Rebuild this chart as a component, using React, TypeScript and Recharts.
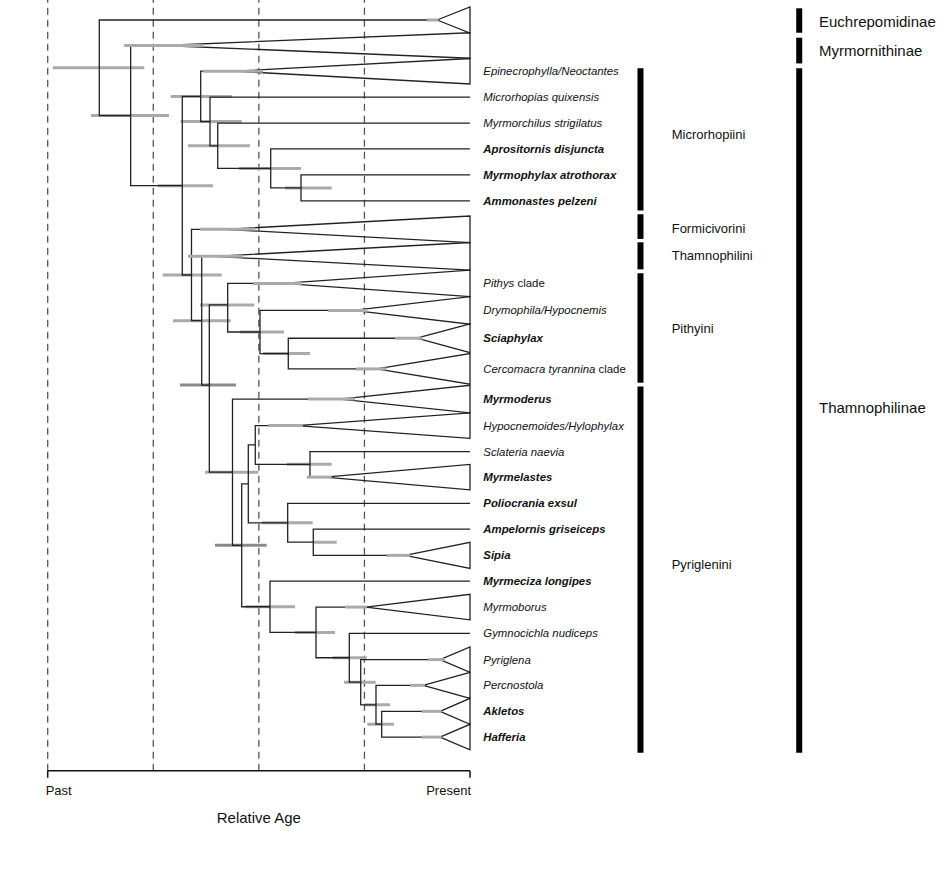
import React from 'react';
import { ComposedChart, XAxis, YAxis, Line, ReferenceLine, ReferenceDot } from 'recharts';

const FONT = "'Liberation Sans', Arial, Helvetica, sans-serif";

// ---------- Tips (terminal lineages, top to bottom) ----------
const tipIds = [
  'Euchrepomidinae', 'Myrmornithinae', 'Epinecrophylla', 'Microrhopias', 'Myrmorchilus',
  'Aprositornis', 'Myrmophylax', 'Ammonastes', 'Formicivorini', 'Thamnophilini',
  'Pithys', 'Drymophila', 'Sciaphylax', 'Cercomacra', 'Myrmoderus',
  'Hypocnemoides', 'Sclateria', 'Myrmelastes', 'Poliocrania', 'Ampelornis',
  'Sipia', 'Myrmeciza', 'Myrmoborus', 'Gymnocichla', 'Pyriglena',
  'Percnostola', 'Akletos', 'Hafferia',
];
// vertical slot of each tip (row units)
const tipRows = [
  0, 0.98, 1.97, 2.97, 3.97,
  4.96, 5.96, 6.96, 8.05, 9.09,
  10.13, 11.17, 12.24, 13.42, 14.58,
  15.6, 16.6, 17.58, 18.59, 19.58,
  20.59, 21.58, 22.58, 23.59, 24.6,
  25.59, 26.59, 27.58,
];
// half height of collapsed clade triangles (0 = single lineage)
const tipHalfHeights = [
  0.5, 0.49, 0.49, 0, 0,
  0, 0, 0, 0.51, 0.53,
  0.51, 0.53, 0.55, 0.59, 0.53,
  0.49, 0, 0.49, 0, 0,
  0.5, 0, 0.49, 0, 0.49,
  0.5, 0.5, 0.49,
];
// crown age of collapsed clades (relative age, 0 = past, 1 = present)
const tipCrownAges: (number | null)[] = [
  0.922, 0.273, 0.4435, null, null,
  null, null, null, 0.42, 0.396,
  0.557, 0.7237, 0.8738, 0.779, 0.6922,
  0.5896, null, 0.6566, null, null,
  0.8461, null, 0.7537, null, 0.929,
  0.8894, 0.929, 0.929,
];
const tipCrownCI: ([number, number] | null)[] = [
  [0.898, 0.925], [0.181, 0.368], [0.368, 0.51], null, null,
  null, null, null, [0.3607, 0.4909], [0.3322, 0.4624],
  [0.4861, 0.6015], [0.6637, 0.7554], [0.8224, 0.8887], [0.73, 0.8028], [0.6164, 0.7277],
  [0.5219, 0.6045], null, [0.6133, 0.6725], null, null,
  [0.8028, 0.8579], null, [0.704, 0.7554], null, [0.9005, 0.9408],
  [0.8579, 0.8934], [0.8856, 0.933], [0.8856, 0.933],
];
// label segments: i = italic, b = bold italic, n = normal
const tipLabels: [string, string][][] = [
  [], [], [['Epinecrophylla/Neoctantes', 'i']], [['Microrhopias quixensis', 'i']], [['Myrmorchilus strigilatus', 'i']],
  [['Aprositornis disjuncta', 'b']], [['Myrmophylax atrothorax', 'b']], [['Ammonastes pelzeni', 'b']], [], [],
  [['Pithys', 'i'], [' clade', 'n']], [['Drymophila/Hypocnemis', 'i']], [['Sciaphylax', 'b']],
  [['Cercomacra tyrannina', 'i'], [' clade', 'n']], [['Myrmoderus', 'b']],
  [['Hypocnemoides/Hylophylax', 'i']], [['Sclateria naevia', 'i']], [['Myrmelastes', 'b']],
  [['Poliocrania exsul', 'b']], [['Ampelornis griseiceps', 'b']],
  [['Sipia', 'b']], [['Myrmeciza longipes', 'b']], [['Myrmoborus', 'i']], [['Gymnocichla nudiceps', 'i']], [['Pyriglena', 'i']],
  [['Percnostola', 'i']], [['Akletos', 'b']], [['Hafferia', 'b']],
];

// ---------- Internal nodes ----------
const nodeIds = [
  'R', 'B', 'T', 'M', 'M2', 'M3', 'M4', 'M5', 'F', 'Th', 'PP', 'P', 'P2', 'P3',
  'Q', 'Q2', 'Q3', 'Q4', 'Q5', 'Q6', 'Q7', 'Q8', 'Q9', 'Q10', 'Q11', 'Q12', 'Q13',
];
const nodeChildren: [string, string][] = [
  ['Euchrepomidinae', 'B'], ['Myrmornithinae', 'T'], ['M', 'F'], ['Epinecrophylla', 'M2'],
  ['Microrhopias', 'M3'], ['Myrmorchilus', 'M4'], ['Aprositornis', 'M5'], ['Myrmophylax', 'Ammonastes'],
  ['Formicivorini', 'Th'], ['Thamnophilini', 'PP'], ['P', 'Q'], ['Pithys', 'P2'], ['Drymophila', 'P3'],
  ['Sciaphylax', 'Cercomacra'], ['Myrmoderus', 'Q2'], ['Q3', 'Q8'], ['Q4', 'Q6'], ['Hypocnemoides', 'Q5'],
  ['Sclateria', 'Myrmelastes'], ['Poliocrania', 'Q7'], ['Ampelornis', 'Sipia'], ['Myrmeciza', 'Q9'],
  ['Myrmoborus', 'Q10'], ['Gymnocichla', 'Q11'], ['Pyriglena', 'Q12'], ['Percnostola', 'Q13'], ['Akletos', 'Hafferia'],
];
const nodeAges = [
  0.1222, 0.1965, 0.3187, 0.3623, 0.3843, 0.4026, 0.5281, 0.5998, 0.3405, 0.3647, 0.3827, 0.4262, 0.5027, 0.5697,
  0.4376, 0.4594, 0.475, 0.4915, 0.6211, 0.5683, 0.6289, 0.5264, 0.6353, 0.7142, 0.7412, 0.7774, 0.7909,
];
// vertical slot of a node where it is not centred between its children (null = centred)
const nodeRowOverrides: (number | null)[] = [
  null, null, null, null, null, null, null, null, null, null, 14.04, 10.96, null, null,
  null, null, null, null, null, null, null, null, null, null, null, null, null,
];
const nodeCI: ([number, number] | null)[] = [
  [0.0118, 0.2287], [0.1025, 0.2872], [0.2612, 0.3915], [0.2913, 0.4357], [0.3149, 0.4594], [0.3322, 0.479],
  [0.453, 0.5998], [0.5619, 0.6725], [0.2723, 0.412], [0.2967, 0.4333], [0.3133, 0.4459], [0.3606, 0.4892],
  [0.4556, 0.5596], [0.5099, 0.6211], [0.3725, 0.4987], [0.3961, 0.5186], null, null, [0.5659, 0.6725],
  [0.5067, 0.6275], [0.6282, 0.6843], [0.4686, 0.5856], [0.5856, 0.6803], [0.6749, 0.7554], [0.7016, 0.7767],
  [0.7514, 0.8106], [0.7568, 0.82],
];

// ---------- Axis & clade annotations ----------
const timeTicks = [0, 1];
const timeTickLabels = ['Past', 'Present'];
const guideAges = [0, 0.25, 0.5, 0.75];

const tribeNames = ['Microrhopiini', 'Formicivorini', 'Thamnophilini', 'Pithyini', 'Pyriglenini'];
const tribeSpans: [number, number][] = [[1.86, 7.33], [7.47, 8.42], [8.55, 9.59], [9.74, 13.95], [14.1, 28.18]];
const tribeLabelRows = [4.41, 8.0, 9.05, 11.87, 20.95];
const subfamilyNames = ['Euchrepomidinae', 'Myrmornithinae', 'Thamnophilinae'];
const subfamilySpans: [number, number][] = [[-0.45, 0.49], [0.68, 1.67], [1.86, 28.18]];
const subfamilyLabelRows = [0.07, 1.17, 14.93];

// ---------- layout constants (relative-age units) ----------
const TIP_LABEL_X = 1.0315;
const TRIBE_BAR_X = 1.4037;
const TRIBE_LABEL_X = 1.4776;
const SUB_BAR_X = 1.7796;
const SUB_LABEL_X = 1.8264;
const DARK_BARS = new Set(['PP', 'Q2']);

const tipIdx = new Map(tipIds.map((id, i) => [id, i]));
const nodeIdx = new Map(nodeIds.map((id, i) => [id, i]));

function rowOf(id: string): number {
  const t = tipIdx.get(id);
  if (t !== undefined) return tipRows[t];
  const n = nodeIdx.get(id)!;
  const o = nodeRowOverrides[n];
  if (o != null) return o;
  const [a, b] = nodeChildren[n];
  return (rowOf(a) + rowOf(b)) / 2;
}
function startAgeOf(id: string): number {
  const t = tipIdx.get(id);
  if (t !== undefined) return tipCrownAges[t] ?? 1;
  return nodeAges[nodeIdx.get(id)!];
}

type Pt = { x: number; y: number };
const elbows: Pt[][] = nodeIds.map((id, i) => {
  const [a, b] = nodeChildren[i];
  const age = nodeAges[i];
  const ra = rowOf(a);
  const rb = rowOf(b);
  return [
    { x: startAgeOf(a), y: ra },
    { x: age, y: ra },
    { x: age, y: rb },
    { x: startAgeOf(b), y: rb },
  ];
});
const triangles: Pt[][] = tipIds
  .map((id, i) => {
    const h = tipHalfHeights[i];
    const apex = tipCrownAges[i];
    if (!h || apex == null) return null;
    const r = tipRows[i];
    return [
      { x: apex, y: r },
      { x: 1, y: r - h },
      { x: 1, y: r + h },
      { x: apex, y: r },
    ];
  })
  .filter((d): d is Pt[] => d !== null);
const nodeBars = nodeIds
  .map((id, i) => (nodeCI[i] ? { id, data: [{ x: nodeCI[i]![0], y: rowOf(id) }, { x: nodeCI[i]![1], y: rowOf(id) }] } : null))
  .filter((d): d is { id: string; data: Pt[] } => d !== null);
const tipBars = tipIds
  .map((id, i) => (tipCrownCI[i] ? { id, data: [{ x: tipCrownCI[i]![0], y: tipRows[i] }, { x: tipCrownCI[i]![1], y: tipRows[i] }] } : null))
  .filter((d): d is { id: string; data: Pt[] } => d !== null);

function label(cx: number, cy: number, parts: [string, string][], size: number) {
  return (
    <text x={cx} y={cy} dy="0.35em" fontFamily={FONT} fontSize={size} fill="#111" style={{ whiteSpace: 'pre' }}>
      {parts.map(([t, s], k) => (
        <tspan key={k} fontStyle={s === 'n' ? 'normal' : 'italic'} fontWeight={s === 'b' ? 'bold' : 'normal'}>
          {t}
        </tspan>
      ))}
    </text>
  );
}

const AgeTick = (props: any) => {
  const { x, y, payload } = props;
  const i = timeTicks.indexOf(payload.value);
  const first = i === 0;
  return (
    <text x={first ? x - 2 : x + 1} y={y} dy="0.71em" textAnchor={first ? 'start' : 'end'} fontFamily={FONT} fontSize={13} fill="#111">
      {timeTickLabels[i]}
    </text>
  );
};

const LINE = '#222';

export default function App() {
  return (
    <div style={{ position: 'absolute', left: 0, top: 0, width: 947, height: 871, background: '#fff' }}>
      <ComposedChart width={947} height={871} margin={{ top: 0, right: 477, bottom: 70.3, left: 47.7 }}>
        <XAxis
          type="number"
          dataKey="x"
          domain={[0, 1]}
          ticks={timeTicks}
          interval={0}
          tickSize={7}
          tickMargin={8}
          height={30}
          axisLine={{ stroke: '#111', strokeWidth: 1.5 }}
          tickLine={{ stroke: '#111', strokeWidth: 1.5 }}
          tick={<AgeTick />}
          label={{ value: 'Relative Age', position: 'bottom', offset: 12, fontSize: 15, fill: '#111', fontFamily: FONT }}
        />
        <YAxis type="number" dataKey="y" domain={[-0.7692, 28.873]} reversed hide />
        {guideAges.map((a) => (
          <ReferenceLine key={'g' + a} x={a} stroke="#555" strokeWidth={1.3} strokeDasharray="7 5" />
        ))}
        {nodeBars.map((b) => (
          <Line
            key={'nb' + b.id}
            data={b.data}
            dataKey="y"
            stroke={DARK_BARS.has(b.id) ? '#8a8a8a' : '#aaaaaa'}
            strokeWidth={3}
            strokeLinecap="butt"
            dot={false}
            activeDot={false}
            isAnimationActive={false}
            legendType="none"
          />
        ))}
        {elbows.map((d, i) => (
          <Line key={'e' + i} data={d} dataKey="y" stroke={LINE} strokeWidth={1.3} dot={false} activeDot={false} isAnimationActive={false} legendType="none" />
        ))}
        {triangles.map((d, i) => (
          <Line key={'t' + i} data={d} dataKey="y" stroke={LINE} strokeWidth={1.3} dot={false} activeDot={false} isAnimationActive={false} legendType="none" />
        ))}
        {tipBars.map((b) => (
          <Line
            key={'tb' + b.id}
            data={b.data}
            dataKey="y"
            stroke="#aaaaaa"
            strokeWidth={3}
            strokeLinecap="butt"
            dot={false}
            activeDot={false}
            isAnimationActive={false}
            legendType="none"
          />
        ))}
        {tribeNames.map((n, i) => (
          <ReferenceLine
            key={'tr' + n}
            ifOverflow="visible"
            segment={[{ x: TRIBE_BAR_X, y: tribeSpans[i][0] }, { x: TRIBE_BAR_X, y: tribeSpans[i][1] }]}
            stroke="#000"
            strokeWidth={6}
          />
        ))}
        {subfamilyNames.map((n, i) => (
          <ReferenceLine
            key={'sf' + n}
            ifOverflow="visible"
            segment={[{ x: SUB_BAR_X, y: subfamilySpans[i][0] }, { x: SUB_BAR_X, y: subfamilySpans[i][1] }]}
            stroke="#000"
            strokeWidth={6}
          />
        ))}
        {tipIds.map((id, i) =>
          tipLabels[i].length ? (
            <ReferenceDot
              key={'tl' + id}
              x={TIP_LABEL_X}
              y={tipRows[i]}
              r={0}
              ifOverflow="visible"
              shape={(p: any) => label(p.cx, p.cy, tipLabels[i], 11.4)}
            />
          ) : null
        )}
        {tribeNames.map((n, i) => (
          <ReferenceDot
            key={'trl' + n}
            x={TRIBE_LABEL_X}
            y={tribeLabelRows[i]}
            r={0}
            ifOverflow="visible"
            shape={(p: any) => label(p.cx, p.cy, [[n, 'n']], 13)}
          />
        ))}
        {subfamilyNames.map((n, i) => (
          <ReferenceDot
            key={'sfl' + n}
            x={SUB_LABEL_X}
            y={subfamilyLabelRows[i]}
            r={0}
            ifOverflow="visible"
            shape={(p: any) => label(p.cx, p.cy, [[n, 'n']], 15)}
          />
        ))}
      </ComposedChart>
    </div>
  );
}
